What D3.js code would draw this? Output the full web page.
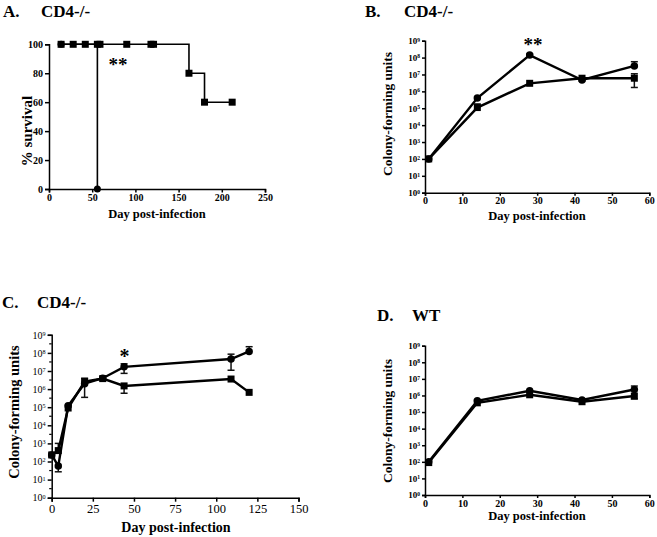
<!DOCTYPE html>
<html><head><meta charset="utf-8">
<script src="https://cdn.jsdelivr.net/npm/d3@7"></script>
<style>
body{margin:0;background:#fff}
svg{display:block}
text{font-family:"Liberation Serif","Times New Roman",serif;fill:#000}
</style>
</head><body>
<svg id="c" width="657" height="537"></svg>
<script>
// ---------- Panel A: survival ----------
const survDaysSquare = [14, 28, 42, 56, 59, 90, 118, 121, 162, 180, 212];
const survSquare     = [100, 100, 100, 100, 100, 100, 100, 100, 80, 60, 60];
const survDaysCircle = [14, 56];
const survCircle     = [100, 0];
const survTicksX = [0, 50, 100, 150, 200, 250];
const survTicksY = [0, 20, 40, 60, 80, 100];

// ---------- Panel B: CD4-/- CFU ----------
const bDays      = [1, 14, 28, 42, 56];
const bCircle    = [1e2, 4e5, 1.4e8, 4.7e6, 3.2e7];
const bCircleHi  = [null, null, 1.6e8, null, 5.7e7];
const bCircleLo  = [null, null, null, null, null];
const bSquare    = [1e2, 1.1e5, 3e6, 6e6, 6e6];
const bSquareHi  = [null, 1.8e5, null, null, 1.1e7];
const bSquareLo  = [null, null, null, null, 1.7e6];
const bTicksX = [0, 10, 20, 30, 40, 50, 60];

// ---------- Panel C: CD4-/- CFU long ----------
const cDays      = [0, 4, 10, 20, 31, 44, 109, 120];
const cCircle    = [2.3e2, 5.6e1, 1.2e5, 2e6, 4e6, 1.7e7, 4.6e7, 1.2e8];
const cCircleHi  = [null, null, null, null, null, 2.5e7, 8.5e7, 2.2e8];
const cCircleLo  = [null, 2.7e1, null, 3.5e5, null, 7.4e6, 1.1e7, null];
const cSquare    = [2.3e2, 4e2, 9e4, 2.6e6, 3.8e6, 1.5e6, 3.6e6, 6.6e5];
const cSquareHi  = [null, 1e3, null, 4e6, null, null, null, null];
const cSquareLo  = [null, null, null, null, null, 5.9e5, null, null];
const cTicksX = [0, 25, 50, 75, 100, 125, 150];

// ---------- Panel D: WT CFU ----------
const dDays      = [1, 14, 28, 42, 56];
const dCircle    = [1e2, 4.8e5, 1.9e6, 5.3e5, 2.3e6];
const dCircleHi  = [null, null, null, null, 3.7e6];
const dCircleLo  = [null, null, null, null, null];
const dSquare    = [9e1, 3.6e5, 1.1e6, 4.2e5, 9.3e5];
const dSquareHi  = [null, null, null, null, null];
const dSquareLo  = [null, null, null, null, 6.2e5];
const dTicksX = [0, 10, 20, 30, 40, 50, 60];

const decades = [0,1,2,3,4,5,6,7,8,9];
const halfDecades = [0.5,1.5,2.5,3.5,4.5,5.5,6.5,7.5,8.5];

const svg = d3.select("#c");

function zip(xs, ys, hi, lo){ return xs.map((x,i)=>({x, y:ys[i], hi: hi?hi[i]:null, lo: lo?lo[i]:null})); }

function styleAxis(g, sw){
  g.select(".domain").attr("stroke","#000").attr("stroke-width",sw);
  g.selectAll(".tick line").attr("stroke","#000").attr("stroke-width",sw);
}

function drawMarkers(g, x, y, pts, shape, size){
  if(shape==="square"){
    g.selectAll(null).data(pts).enter().append("rect")
      .attr("x",d=>x(d.x)-size/2).attr("y",d=>y(d.y)-size/2)
      .attr("width",size).attr("height",size).attr("fill","#000");
  } else {
    g.selectAll(null).data(pts).enter().append("circle")
      .attr("cx",d=>x(d.x)).attr("cy",d=>y(d.y)).attr("r",size/2).attr("fill","#000");
  }
}

function drawErr(g, x, y, pts, sw){
  pts.forEach(d=>{
    [d.hi, d.lo].forEach(v=>{
      if(v==null) return;
      g.append("line").attr("x1",x(d.x)).attr("x2",x(d.x)).attr("y1",y(d.y)).attr("y2",y(v))
        .attr("stroke","#111").attr("stroke-width",sw);
      g.append("line").attr("x1",x(d.x)-3.5).attr("x2",x(d.x)+3.5).attr("y1",y(v)).attr("y2",y(v))
        .attr("stroke","#111").attr("stroke-width",sw);
    });
  });
}

function title(x1, x2, yb, letter, label){
  svg.append("text").attr("x",x1).attr("y",yb).attr("font-size",17).attr("font-weight","bold").text(letter);
  svg.append("text").attr("x",x2).attr("y",yb).attr("font-size",17).attr("font-weight","bold").text(label);
}

function xTitle(xc, yb, fs){
  svg.append("text").attr("x",xc).attr("y",yb).attr("text-anchor","middle")
    .attr("font-size",fs).attr("font-weight","bold").text("Day post-infection");
}
function yTitle(xc, yc, fs, label){
  svg.append("text").attr("transform",`translate(${xc},${yc}) rotate(-90)`)
    .attr("text-anchor","middle").attr("dy","0.35em")
    .attr("font-size",fs).attr("font-weight","bold").text(label);
}

// ================= Panel A =================
(function(){
  const x = d3.scaleLinear().domain([0,250]).range([49,265]);
  const y = d3.scaleLinear().domain([0,100]).range([189,44.3]);
  const g = svg.append("g");
  const gx = g.append("g").attr("transform","translate(0,189)")
    .call(d3.axisBottom(x).tickValues(survTicksX).tickSizeOuter(0).tickSize(3.5).tickPadding(1.5));
  gx.selectAll("text").attr("font-size",10).attr("font-weight","bold");
  styleAxis(gx,1.5);
  const gy = g.append("g").attr("transform","translate(49,0)")
    .call(d3.axisLeft(y).tickValues(survTicksY).tickSizeOuter(0).tickSize(4).tickPadding(2));
  gy.selectAll("text").attr("font-size",10).attr("font-weight","bold");
  styleAxis(gy,1.5);

  const line = d3.line().x(d=>x(d.x)).y(d=>y(d.y)).curve(d3.curveStepAfter);
  const ptsC = zip(survDaysCircle, survCircle);
  const ptsS = zip(survDaysSquare, survSquare);
  g.append("path").attr("d",line(ptsC)).attr("fill","none").attr("stroke","#000").attr("stroke-width",1.6);
  g.append("path").attr("d",line(ptsS)).attr("fill","none").attr("stroke","#000").attr("stroke-width",1.6);
  drawMarkers(g,x,y,ptsC,"circle",7);
  drawMarkers(g,x,y,ptsS,"square",7);
  svg.append("text").attr("x",118).attr("y",71).attr("text-anchor","middle")
    .attr("font-size",19).attr("font-weight","bold").text("**");
  title(3,41,17,"A.","CD4-/-");
  xTitle(157,218,12.5);
  yTitle(27,131,15,"% survival");
})();

// ================= log panels =================
function logPanel(o){
  const x = d3.scaleLinear().domain(o.xDomain).range([o.x0,o.x1]);
  const y = d3.scaleLog().domain([1,1e9]).range([o.y0,o.y1]);
  const g = svg.append("g");
  const gx = g.append("g").attr("transform",`translate(0,${o.y0})`)
    .call(d3.axisBottom(x).tickValues(o.ticksX).tickSizeOuter(0).tickSize(o.ts).tickPadding(o.tp).tickFormat(d3.format("d")));
  gx.selectAll("text").attr("font-size",o.xfs).attr("font-weight",o.bold?"bold":"normal");
  styleAxis(gx,1.5);
  const gy = g.append("g").attr("transform",`translate(${o.x0},0)`)
    .call(d3.axisLeft(y).tickValues(decades.map(e=>Math.pow(10,e))).tickSizeOuter(0).tickSize(o.ts).tickPadding(2).tickFormat(""));
  styleAxis(gy,1.5);
  gy.selectAll(".tick").each(function(d){
    const e = Math.round(Math.log10(d));
    const t = d3.select(this).append("text").attr("x",-o.ts-2).attr("dy","0.32em")
      .attr("text-anchor","end").attr("font-size",o.yfs).attr("font-weight",o.bold?"bold":"normal");
    t.append("tspan").text("10");
    t.append("tspan").attr("dy","-0.45em").attr("font-size",o.yfs*0.62).text(e);
  });
  if(o.minor){
    halfDecades.forEach(e=>{
      g.append("line").attr("x1",o.x0-2.5).attr("x2",o.x0).attr("y1",y(Math.pow(10,e))).attr("y2",y(Math.pow(10,e)))
        .attr("stroke","#000").attr("stroke-width",1.2);
    });
  }
  const line = d3.line().x(d=>x(d.x)).y(d=>y(d.y));
  const ptsC = zip(o.days, o.circle, o.circleHi, o.circleLo);
  const ptsS = zip(o.days, o.square, o.squareHi, o.squareLo);
  drawErr(g,x,y,ptsC,1.5);
  drawErr(g,x,y,ptsS,1.5);
  g.append("path").attr("d",line(ptsS)).attr("fill","none").attr("stroke","#000").attr("stroke-width",o.lw);
  g.append("path").attr("d",line(ptsC)).attr("fill","none").attr("stroke","#000").attr("stroke-width",o.lw);
  drawMarkers(g,x,y,ptsS,"square",7);
  drawMarkers(g,x,y,ptsC,"circle",7.5);
}

// Panel B
logPanel({x0:425,x1:649.3,y0:192.7,y1:40.7,xDomain:[0,60],ticksX:bTicksX,xfs:10,yfs:9,bold:true,lw:2.4,ts:3,tp:1.5,
  days:bDays,circle:bCircle,circleHi:bCircleHi,circleLo:bCircleLo,square:bSquare,squareHi:bSquareHi,squareLo:bSquareLo});
svg.append("text").attr("x",533).attr("y",51).attr("text-anchor","middle").attr("font-size",19).attr("font-weight","bold").text("**");
title(365,404,17.3,"B.","CD4-/-");
xTitle(537,219.5,12.5);
yTitle(387,114,13.5,"Colony-forming units");

// Panel C
logPanel({x0:51.7,x1:298.5,y0:497.7,y1:334.8,xDomain:[0,150],ticksX:cTicksX,xfs:12.5,yfs:10,bold:false,lw:2.4,minor:true,ts:4,tp:2,
  days:cDays,circle:cCircle,circleHi:cCircleHi,circleLo:cCircleLo,square:cSquare,squareHi:cSquareHi,squareLo:cSquareLo});
svg.append("text").attr("x",124.5).attr("y",363).attr("text-anchor","middle").attr("font-size",20).attr("font-weight","bold").text("*");
title(2,37,308.3,"C.","CD4-/-");
xTitle(176,532,14);
yTitle(14,412,14.5,"Colony-forming units");

// Panel D
logPanel({x0:425,x1:649.3,y0:495,y1:345.7,xDomain:[0,60],ticksX:dTicksX,xfs:10,yfs:9,bold:true,lw:2.4,ts:3,tp:1.5,
  days:dDays,circle:dCircle,circleHi:dCircleHi,circleLo:dCircleLo,square:dSquare,squareHi:dSquareHi,squareLo:dSquareLo});
title(377,412,321,"D.","WT");
xTitle(537,520,12.5);
yTitle(387.5,421,13.5,"Colony-forming units");
</script>
</body></html>
